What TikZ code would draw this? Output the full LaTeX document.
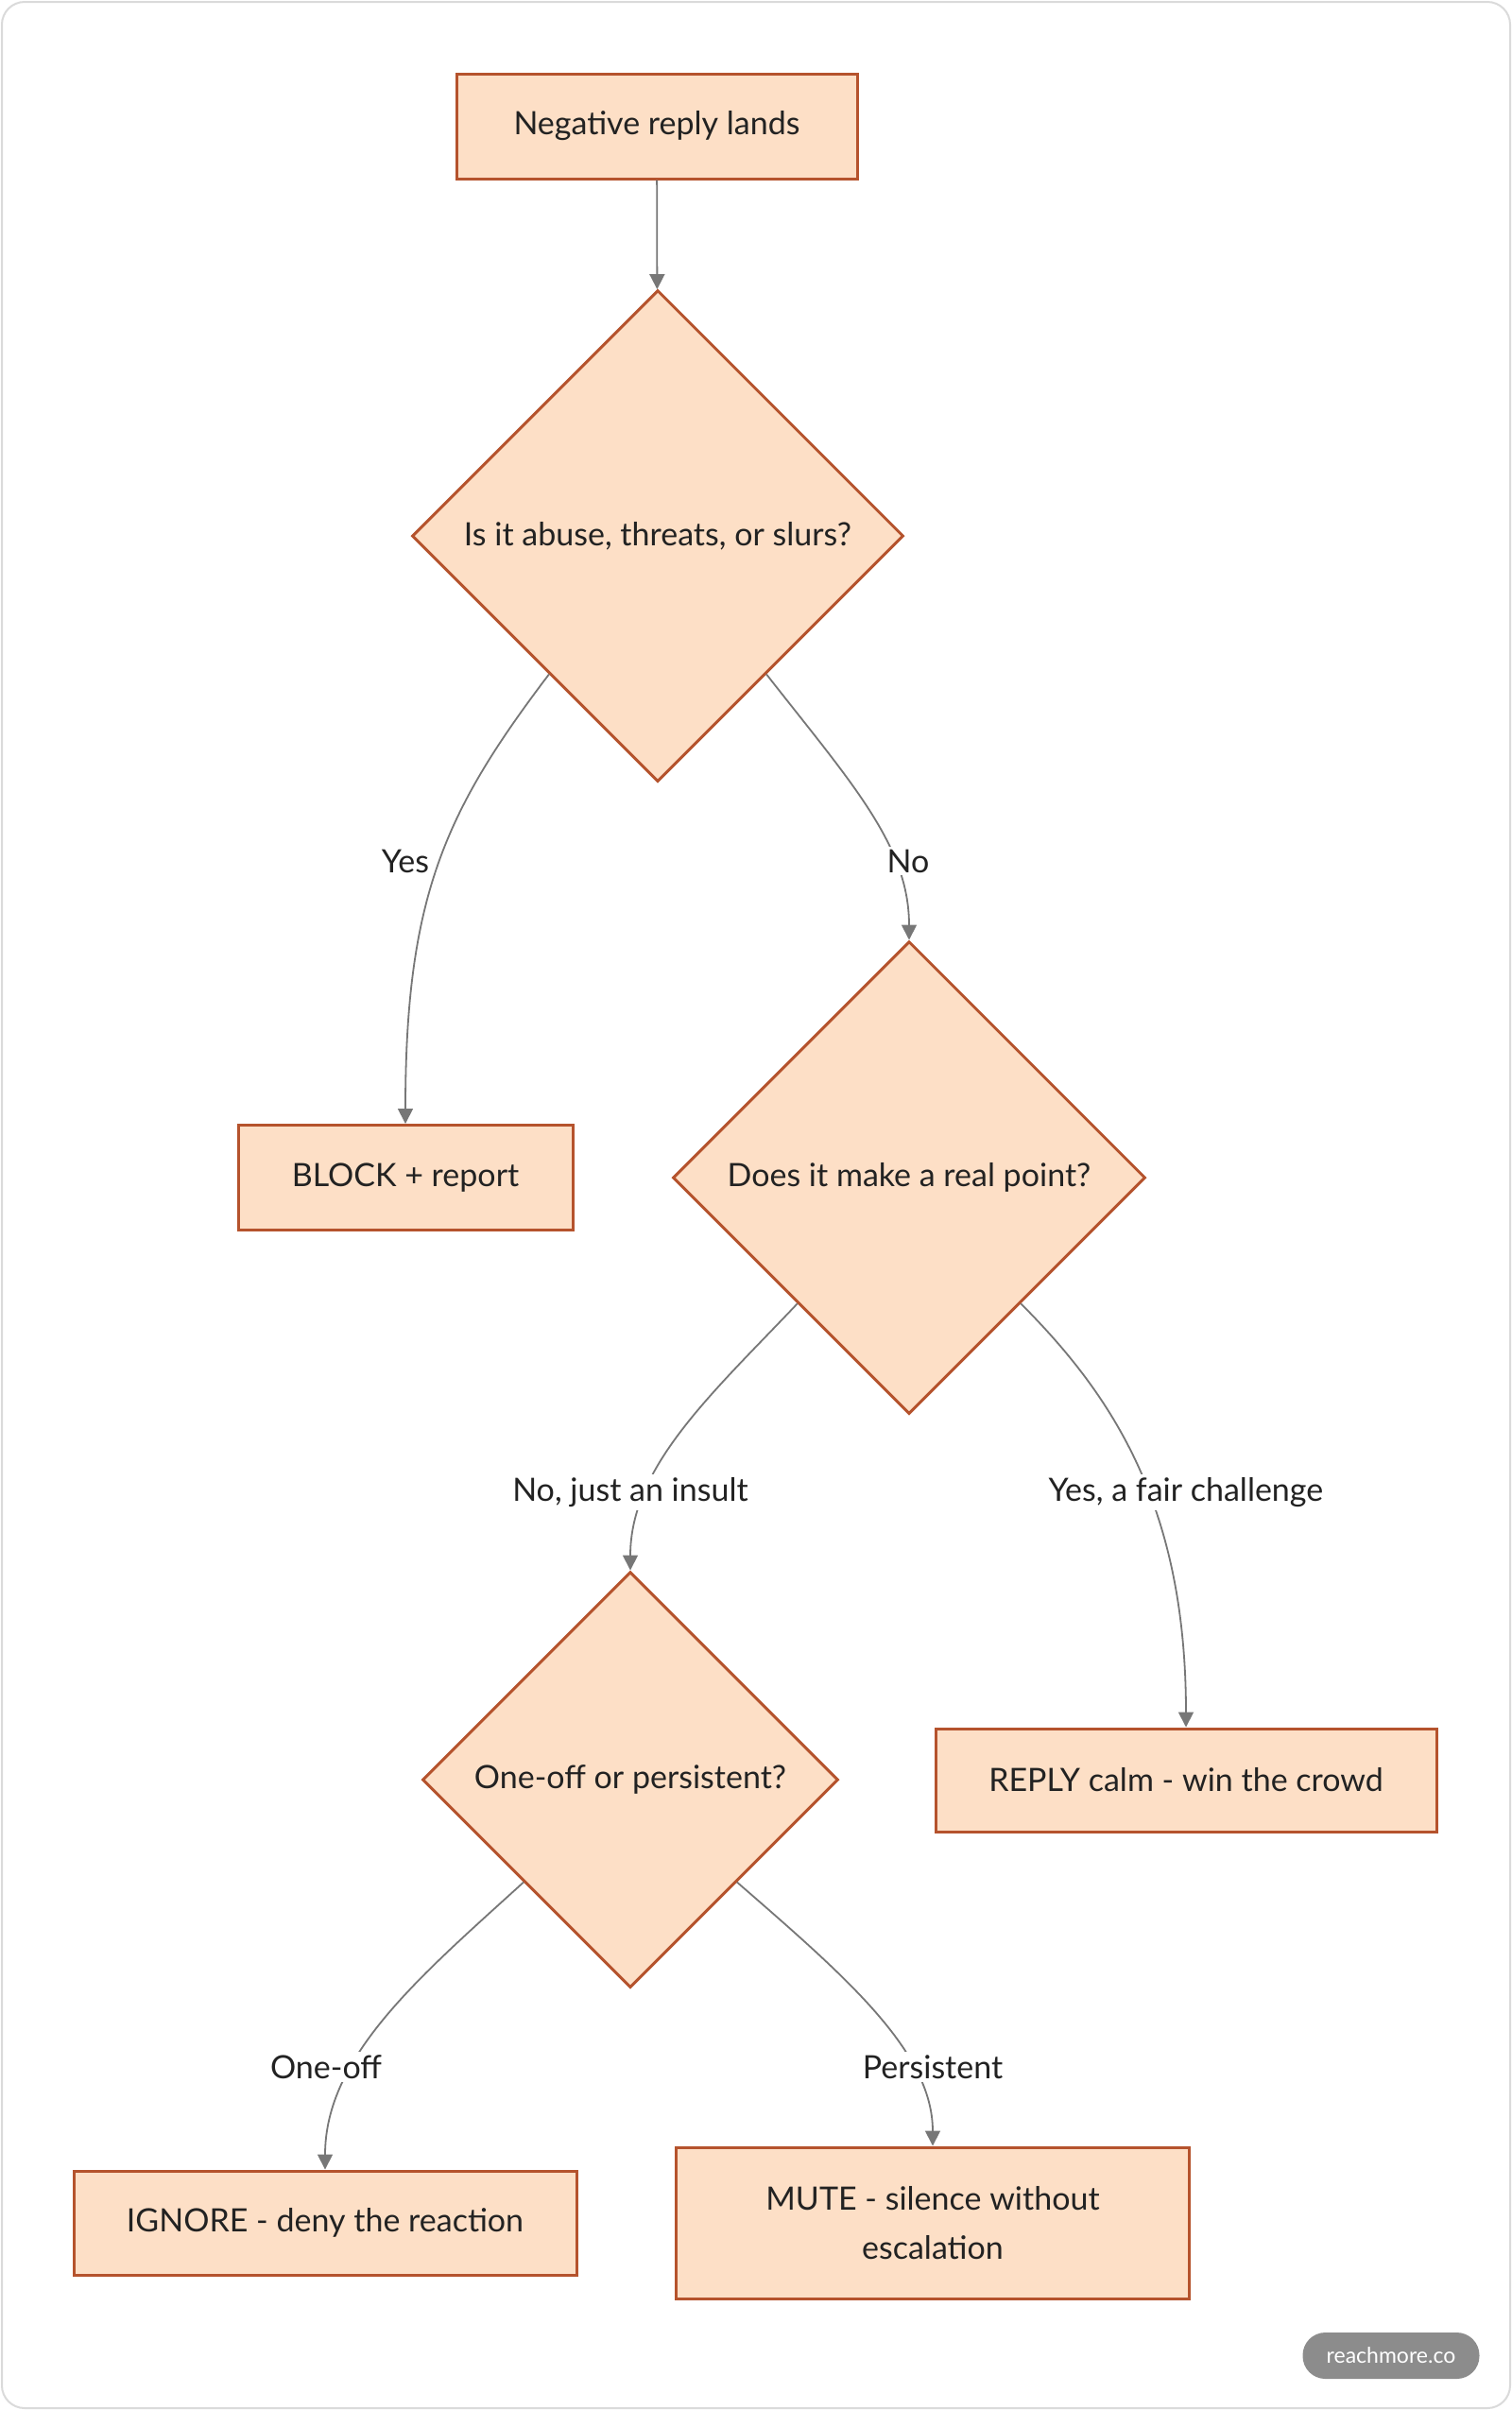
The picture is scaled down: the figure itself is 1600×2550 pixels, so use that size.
\documentclass[tikz,border=0pt]{standalone}
\usepackage{fontspec}
\setmainfont{Lato}
\usetikzlibrary{shapes.geometric,arrows.meta,calc}
\definecolor{boxfill}{HTML}{FDDFC6}
\definecolor{boxline}{HTML}{B5532D}
\definecolor{edgec}{HTML}{777777}
\definecolor{txt}{HTML}{222222}
\definecolor{framec}{HTML}{DADADA}
\definecolor{badgec}{HTML}{8C8C8C}
\begin{document}
\begin{tikzpicture}[x=0.5pt,y=-0.5pt,
  every node/.style={text=txt, font=\fontsize{17}{26}\selectfont},
  procbox/.style={draw=boxline, fill=boxfill, line width=1.5pt, rectangle, inner sep=0pt, align=center},
  decision/.style={draw=boxline, fill=boxfill, line width=1.5pt, diamond, aspect=1, inner sep=0pt, align=center},
  edge/.style={draw=edgec, line width=0.9pt, -{Triangle[length=8pt,width=8pt]}},
  elabel/.style={fill=white, inner sep=1.5pt}]
\useasboundingbox (0,0) rectangle (1600,2550);
\path[draw=framec, fill=white, line width=1pt, rounded corners=12pt] (2,2) rectangle (1598,2548);

\node[procbox, minimum width=212pt, minimum height=55.5pt] (start) at (695,133.5) {Negative reply lands};
\node[decision, minimum width=260pt, minimum height=260pt] (d1) at (696,567) {Is it abuse, threats, or slurs?};
\node[procbox, minimum width=177pt, minimum height=55.5pt] (block) at (429,1246) {BLOCK + report};
\node[decision, minimum width=250pt, minimum height=250pt] (d2) at (962,1246) {Does it make a real point?};
\node[procbox, minimum width=265pt, minimum height=54.5pt] (reply) at (1255,1883.5) {REPLY calm - win the crowd};
\node[decision, minimum width=220pt, minimum height=220pt] (d3) at (667,1883) {One-off or persistent?};
\node[procbox, minimum width=266pt, minimum height=55pt] (ignore) at (344,2352) {IGNORE - deny the reaction};
\node[procbox, minimum width=271.5pt, minimum height=80pt] (mute) at (987,2352) {MUTE - silence without\\escalation};

\draw[edge] (start) -- (d1);
\draw[edge] ($(d1.west)!0.56!(d1.south)$) .. controls +(-110,145) and +(0,-240) .. (block.north);
\draw[edge] ($(d1.east)!0.56!(d1.south)$) .. controls +(90,115) and +(0,-100) .. (d2.north);
\draw[edge] ($(d2.west)!0.53!(d2.south)$) .. controls +(-90,95) and +(0,-110) .. (d3.north);
\draw[edge] ($(d2.east)!0.53!(d2.south)$) .. controls +(100,100) and +(0,-230) .. (reply.north);
\draw[edge] ($(d3.west)!0.49!(d3.south)$) .. controls +(-110,100) and +(0,-120) .. (ignore.north);
\draw[edge] ($(d3.east)!0.49!(d3.south)$) .. controls +(115,100) and +(0,-100) .. (mute.north);

\node[elabel] (lyes) at (429,911) {Yes};
\node[elabel] (lno) at (961,911) {No};
\node[elabel] (linsult) at (667,1579) {No, just an insult};
\node[elabel] (lfair) at (1255,1579) {Yes, a fair challenge};
\node[elabel] (loneoff) at (345,2187) {One-off};
\node[elabel] (lpers) at (987,2187) {Persistent};

\node[fill=badgec, rounded corners=12pt, minimum width=93.5pt, minimum height=24.5pt, inner sep=0pt, text=white, font=\fontsize{11.5}{13}\selectfont] (badge) at (1472,2492.5) {reachmore.co};
\end{tikzpicture}
\end{document}
